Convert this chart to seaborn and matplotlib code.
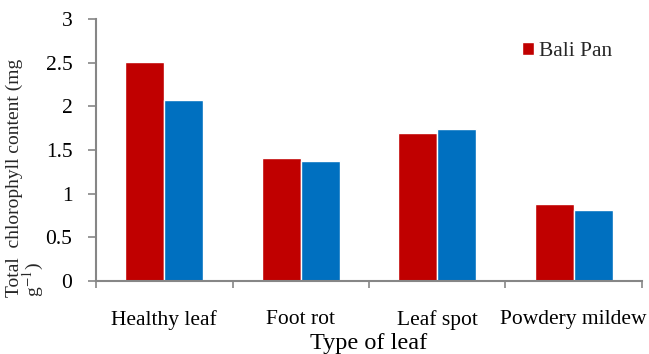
import pandas as pd
import matplotlib.pyplot as plt
import seaborn as sns
from matplotlib.patches import Patch

# values
leaf_types = ["Healthy leaf", "Foot rot", "Leaf spot", "Powdery mildew"]
bali_pan = [2.51, 1.41, 1.70, 0.88]
second_variety = [2.07, 1.375, 1.74, 0.81]
y_ticks = [0, 0.5, 1, 1.5, 2, 2.5, 3]
y_tick_labels = ["0", "0.5", "1", "1.5", "2", "2.5", "3"]

df = pd.DataFrame({
    "leaf": leaf_types * 2,
    "chl": bali_pan + second_variety,
    "variety": ["Bali Pan"] * 4 + ["Other"] * 4,
})

sns.set_theme(style="white")
plt.rcParams["font.family"] = ["Liberation Serif", "DejaVu Serif"]
plt.rcParams["mathtext.fontset"] = "stix"

red = "#C00000"
blue = "#0070C0"
axis_grey = "#868686"

fig = plt.figure(figsize=(6.49, 3.54), dpi=100)
ax = fig.add_axes([0.148, 0.206, 0.841, 0.740])

sns.barplot(data=df, x="leaf", y="chl", hue="variety",
            palette=[red, blue], width=0.57, saturation=1,
            legend=False, ax=ax)

ax.set_xlim(-0.5, 3.5)
ax.set_ylim(0, 3)
ax.set_yticks(y_ticks)
ax.set_yticklabels(y_tick_labels, fontsize=15.5, color="black")
ax.set_xticks(range(4))
ax.set_xticklabels(leaf_types, fontsize=15.5, color="black")
ax.set_xticks([-0.5, 0.5, 1.5, 2.5, 3.5], minor=True)
ax.tick_params(axis="x", which="major", length=0, pad=21)
ax.tick_params(axis="x", which="minor", length=5, width=1.2, color=axis_grey, direction="out", bottom=True)
ax.tick_params(axis="y", length=6, width=1.2, color=axis_grey, direction="out", pad=11, left=True)

for side in ["top", "right"]:
    ax.spines[side].set_visible(False)
for side in ["left", "bottom"]:
    ax.spines[side].set_color(axis_grey)
    ax.spines[side].set_linewidth(1.5)

# reference crops the bottom of this label; keep it just inside here
ax.set_xlabel("Type of leaf", fontsize=17.5, color="black", labelpad=2)
ax.set_ylabel("")
fig.text(0.040, 0.160, "Total  chlorophyll content (mg\ng$^{-1}$)",
         rotation=90, ha="center", va="bottom", multialignment="left",
         fontsize=14, linespacing=0.9)

ax.legend(handles=[Patch(facecolor=red, label="Bali Pan")],
          loc="upper left", bbox_to_anchor=(0.788, 0.912),
          bbox_transform=fig.transFigure, frameon=False,
          fontsize=15.5, handlelength=0.55, handleheight=0.55,
          handletextpad=0.25, borderpad=0)

fig.savefig("out.png", dpi=100)
